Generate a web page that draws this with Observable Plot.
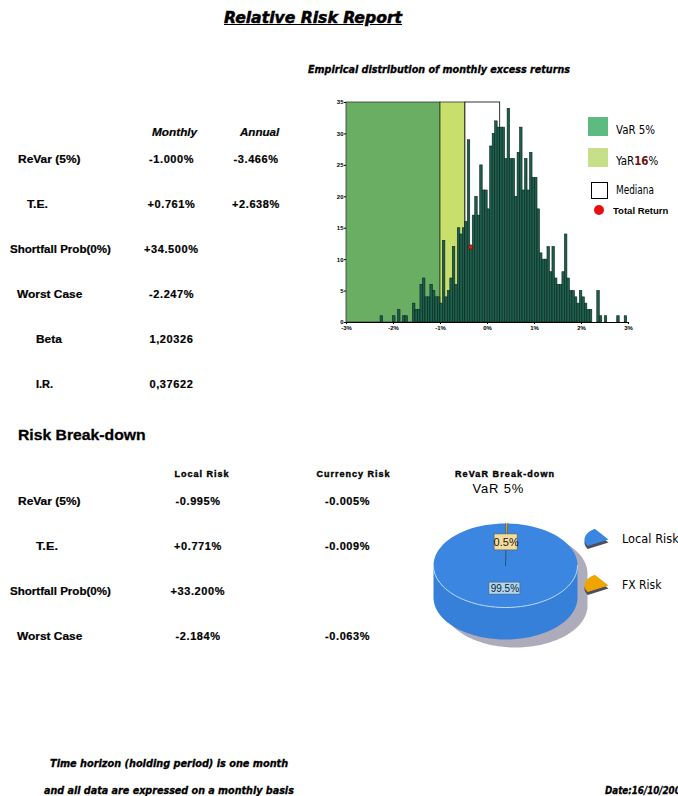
<!DOCTYPE html>
<html>
<head>
<meta charset="utf-8">
<script src="https://cdn.jsdelivr.net/npm/d3@7"></script>
<script src="https://cdn.jsdelivr.net/npm/@observablehq/plot@0.6"></script>
<style>
  body { margin: 0; background: #fff; }
  #page { position: relative; width: 678px; height: 796px; overflow: hidden; background: #fff; color: #000;
          font-family: "Liberation Sans", Arial, sans-serif; }
  .t { position: absolute; white-space: nowrap; line-height: 1; }
  .abs { position: absolute; }
</style>
</head>
<body>
<div id="page"></div>
<script>
// ---------- summary table (monthly / annual) ----------
const statLabels  = ["ReVar (5%)", "T.E.", "Shortfall Prob(0%)", "Worst Case", "Beta", "I.R."];
const statMonthly = ["-1.000%", "+0.761%", "+34.500%", "-2.247%", "1,20326", "0,37622"];
const statAnnual  = ["-3.466%", "+2.638%", "", "", "", ""];

// ---------- risk break-down table ----------
const breakLabels  = ["ReVar (5%)", "T.E.", "Shortfall Prob(0%)", "Worst Case"];
const localRisk    = ["-0.995%", "+0.771%", "+33.200%", "-2.184%"];
const currencyRisk = ["-0.005%", "-0.009%", "", "-0.063%"];

// ---------- empirical distribution of monthly excess returns (%) ----------
const binStart = -2.275;   // left edge of the first bin, %
const binWidth = 0.053;    // bin width, %
const returnCounts = [
  1, 0, 0, 0, 0, 1, 0, 2, 0, 1,
  1, 0, 0, 3, 2, 2, 6, 7, 4, 4,
  6, 5, 4, 4, 3, 13, 4, 5, 7, 12,
  6, 15, 14, 15, 16, 29, 12, 17, 20, 17,
  25, 21, 21, 18, 28, 30, 32, 31, 31, 31,
  26, 34, 26, 26, 20, 27, 31, 21, 26, 21,
  27, 23, 23, 18, 11, 10, 10, 12, 8, 12,
  7, 6, 6, 8, 14, 7, 5, 5, 4, 3,
  5, 4, 3, 2, 2, 0, 0, 5, 1, 0,
  1, 0, 0, 0, 0, 1, 0, 0, 1
];
const var5 = -1.0;          // VaR 5% (ReVar 5%)
const var16 = -0.47;        // VaR 16%
const medianReturn = 0.27;  // median
const totalReturn = { x: -0.36, y: 12 };
const xTicks = [-3, -2, -1, 0, 1, 2, 3];
const yTicks = [0, 5, 10, 15, 20, 25, 30, 35];

// ---------- ReVaR break-down, VaR 5% ----------
const pieLabels = ["Local Risk", "FX Risk"];
const pieShares = [99.5, 0.5];

// ---------------------------------------------------------------
const page = document.getElementById("page");
const FONT = "\"Liberation Sans\", Arial, sans-serif";
const NARROW = "\"Liberation Sans Narrow\", \"DejaVu Sans Condensed\", \"Liberation Sans\", sans-serif";

// Places a line of text with its vertical centre at y; optional width squeezes it horizontally.
function put(html, x, y, o = {}) {
  const el = document.createElement("div");
  el.className = "t";
  el.innerHTML = html;
  el.style.fontSize = (o.size || 11) + "px";
  el.style.fontWeight = o.weight || "bold";
  el.style.fontStyle = o.italic ? "italic" : "normal";
  el.style.fontFamily = o.family || FONT;
  if (o.spacing) el.style.letterSpacing = o.spacing + "px";
  if (o.underline) el.style.textDecoration = "underline";
  if (o.color) el.style.color = o.color;
  if (o.heavy) el.style.webkitTextStroke = o.heavy + "px #000";
  page.appendChild(el);
  const w = el.offsetWidth, h = el.offsetHeight;
  const sx = o.width ? o.width / w : 1;
  const dw = w * sx;
  const left = o.anchor === "middle" ? x - dw / 2 : o.anchor === "end" ? x - dw : x;
  el.style.left = left + "px";
  el.style.top = (y - h / 2) + "px";
  el.style.transformOrigin = "0 50%";
  el.style.transform = `scaleX(${sx})`;
  return el;
}
function box(x, y, w, h, css) {
  const el = document.createElement("div");
  el.className = "abs";
  Object.assign(el.style, { left: x + "px", top: y + "px", width: w + "px", height: h + "px" }, css);
  page.appendChild(el);
  return el;
}
function mount(svg, x, y) {
  const holder = document.createElement("div");
  holder.className = "abs";
  holder.style.left = x + "px";
  holder.style.top = y + "px";
  holder.appendChild(svg);
  page.appendChild(holder);
}

// ---------- titles ----------
put("Relative Risk Report", 224, 18, { size: 16, italic: true, underline: true, family: NARROW, width: 178, heavy: 0.5 });
put("Empirical distribution of monthly excess returns", 308, 69, { size: 11, italic: true, family: NARROW, width: 262, heavy: 0.3 });

// ---------- histogram ----------
const bins = returnCounts
  .map((c, i) => ({ x1: binStart + i * binWidth, x2: binStart + (i + 1) * binWidth, count: c }))
  .filter(d => d.count > 0);

const hist = Plot.plot({
  width: 330, height: 250,
  marginLeft: 36, marginRight: 12, marginTop: 12, marginBottom: 18,
  style: { background: "transparent", fontFamily: FONT, fontSize: "6px", fontWeight: "bold", color: "#000" },
  x: { domain: [-3, 3] },
  y: { domain: [0, 35] },
  marks: [
    Plot.rect([{ x1: -3, x2: var5 }], { x1: "x1", x2: "x2", y1: 0, y2: 35, fill: "#6aae64", stroke: "#2b3a2b", strokeWidth: 0.8 }),
    Plot.rect([{ x1: var5, x2: var16 }], { x1: "x1", x2: "x2", y1: 0, y2: 35, fill: "#c8df6c", stroke: "#2b3a2b", strokeWidth: 0.8 }),
    Plot.rect([{ x1: var16, x2: medianReturn }], { x1: "x1", x2: "x2", y1: 0, y2: 35, fill: "#ffffff", stroke: "#000", strokeWidth: 0.8 }),
    Plot.rectY(bins, { x1: "x1", x2: "x2", y: "count", fill: "#1d5f4c", stroke: "#0b261f", strokeWidth: 0.6 }),
    Plot.ruleY([0], { stroke: "#000", strokeWidth: 1 }),
    Plot.axisY({ ticks: yTicks, tickSize: 2, tickPadding: 1, label: null }),
    Plot.axisX({ ticks: xTicks, tickSize: 2, tickPadding: 1, label: null, tickFormat: d => d + "%" }),
    Plot.dot([totalReturn], { x: "x", y: "y", r: 2.2, fill: "#d42020", stroke: "#6b0d0d", strokeWidth: 0.7 })
  ]
});
mount(hist, 310, 90);

// histogram legend
box(588, 117, 20, 19, { background: "#5dbb82" });
put("VaR 5%", 616, 130, { size: 12, weight: "normal", family: NARROW, width: 39 });
box(588, 148, 20, 19, { background: "#c6e08a" });
put("YaR<b style=\"color:#6b1010\">16</b>%", 616, 161, { size: 12, weight: "normal", family: NARROW, width: 42 });
box(591, 182, 15, 15, { background: "#fff", border: "1px solid #000" });
put("Mediana", 616, 190, { size: 12, weight: "normal", family: NARROW, width: 38 });
box(594, 205, 10, 10, { background: "#e81010", borderRadius: "50%" });
put("Total Return", 613, 211, { size: 9, weight: "bold", width: 55 });

// ---------- summary table ----------
put("Monthly", 152, 132, { size: 11, italic: true, width: 45, heavy: 0.2 });
put("Annual", 240, 132, { size: 11, italic: true, width: 39, heavy: 0.2 });
const statLeft = [18, 27, 10, 17, 36, 36];
const statW = [62, 21, 101, 65, 26, 17];
statLabels.forEach((s, i) => {
  const y = 159 + i * 45;
  put(s, statLeft[i], y, { size: 11, width: statW[i], heavy: 0.2 });
  put(statMonthly[i], 171.5, y, { size: 11, anchor: "middle", spacing: 0.6, heavy: 0.2 });
  if (statAnnual[i]) put(statAnnual[i], 256, y, { size: 11, anchor: "middle", spacing: 0.6, heavy: 0.2 });
});

// ---------- risk break-down table ----------
put("Risk Break-down", 18, 434, { size: 15, width: 128, heavy: 0.3 });
put("Local Risk", 202, 474, { size: 9, anchor: "middle", spacing: 1, heavy: 0.4 });
put("Currency Risk", 353.5, 474, { size: 9, anchor: "middle", spacing: 1, heavy: 0.4 });
put("ReVaR Break-down", 505, 474, { size: 9, anchor: "middle", spacing: 1.1, heavy: 0.4 });
put("VaR 5%", 498.5, 488, { size: 13, weight: "normal", anchor: "middle", spacing: 0.8 });
const breakLeft = [18, 36, 10, 17];
const breakW = [62, 22, 101, 65];
breakLabels.forEach((s, i) => {
  const y = 501 + i * 45;
  put(s, breakLeft[i], y, { size: 11, width: breakW[i], heavy: 0.2 });
  put(localRisk[i], 198, y, { size: 11, anchor: "middle", spacing: 0.6, heavy: 0.2 });
  if (currencyRisk[i]) put(currencyRisk[i], 347.5, y, { size: 11, anchor: "middle", spacing: 0.6, heavy: 0.2 });
});

// ---------- 3-D pie of the ReVaR break-down ----------
const cx = 505, cy = 565, rx = 72, ry = 42, depth = 32;
const ell = (a, dx = 0, dy = 0) => [cx + rx * Math.sin(a) + dx, cy - ry * Math.cos(a) + dy];
function arc(a0, a1, dx = 0, dy = 0, n = 90) {
  return d3.range(n + 1).map(i => ell(a0 + (a1 - a0) * i / n, dx, dy));
}
const arcs = d3.pie().sortValues((a, b) => a - b)(pieShares);
const pieColors = ["#3b86e0", "#f0a400"];

const shadow = [...arc(-Math.PI / 2, Math.PI / 2, 10, 8), ...arc(Math.PI / 2, 3 * Math.PI / 2, 10, 8 + depth)];
const side = [...arc(Math.PI / 2, 3 * Math.PI / 2), ...arc(3 * Math.PI / 2, Math.PI / 2, 0, depth)];
const seam = arc(Math.PI / 2, 3 * Math.PI / 2);
const slices = arcs.map((d, i) => ({ pts: [[cx, cy], ...arc(d.startAngle, d.endAngle)], color: pieColors[i] }));
const pieText = arcs.map((d, i) => {
  const mid = (d.startAngle + d.endAngle) / 2;
  return { x: cx + 0.55 * rx * Math.sin(mid), y: cy - 0.55 * ry * Math.cos(mid), label: pieShares[i] + "%", i };
});
const labelBox = [[31, 12], [23, 16]];
const labelFill = ["#a9d7f7", "#f3dc9e"];

// legend wedges: apex on the right, arc to the left, small extrusion underneath
function wedge(ax, ay, dy = 0) {
  const pts = [[ax, ay + dy]];
  for (let k = 0; k <= 30; k++) {
    const t = (150 + (235 - 150) * k / 30) * Math.PI / 180;
    pts.push([ax + 24 * Math.cos(t), ay + 13 * Math.sin(t) + dy]);
  }
  return pts;
}
const legendY = [539, 585];
const line = (pts, o) => Plot.line(pts, { x: d => d[0], y: d => d[1], ...o });

const pie = Plot.plot({
  width: 268, height: 160, margin: 0,
  x: { domain: [410, 678], axis: null },
  y: { domain: [660, 500], axis: null },
  style: { background: "transparent", overflow: "visible" },
  marks: [
    line(shadow, { fill: "#aeabbb", stroke: "none" }),
    line(side, { fill: "#3780da", stroke: "none" }),
    ...slices.map(s => line(s.pts, { fill: s.color, stroke: "none" })),
    line(seam, { stroke: "#b9dcfb", strokeWidth: 1 }),
    line([[cx, cy], ell(arcs[0].startAngle)], { stroke: "#1f4f8f", strokeWidth: 0.7 }),
    line([[cx, cy], ell(arcs[1].startAngle)], { stroke: "#1f4f8f", strokeWidth: 0.7 }),
    Plot.rect(pieText, {
      x1: d => d.x - labelBox[d.i][0] / 2, x2: d => d.x + labelBox[d.i][0] / 2,
      y1: d => d.y - labelBox[d.i][1] / 2, y2: d => d.y + labelBox[d.i][1] / 2,
      fill: d => labelFill[d.i], stroke: "#5a5a5a", strokeWidth: 0.6
    }),
    Plot.text(pieText, { x: "x", y: "y", text: "label", fontSize: d => (d.i === 0 ? 10 : 11), fill: "#1a1a1a", fontFamily: FONT }),
    ...legendY.map(y => line(wedge(608, y, 3), { fill: "#4a4f5a", stroke: "none" })),
    ...legendY.map((y, i) => line(wedge(608, y), { fill: pieColors[i], stroke: "none" }))
  ]
});
mount(pie, 410, 500);
pieLabels.forEach((s, i) => put(s, 622, legendY[i], { size: 12, weight: "normal", family: NARROW, width: i === 0 ? 57 : 39 }));

// ---------- footer ----------
put("Time horizon (holding period) is one month", 50, 763, { size: 11, italic: true, family: NARROW, width: 238, heavy: 0.3 });
put("and all data are expressed on a monthly basis", 44, 790, { size: 11, italic: true, family: NARROW, width: 250, heavy: 0.3 });
put("Date:16/10/200", 605, 790, { size: 11, italic: true, family: NARROW, width: 76, heavy: 0.3 });
</script>
</body>
</html>
